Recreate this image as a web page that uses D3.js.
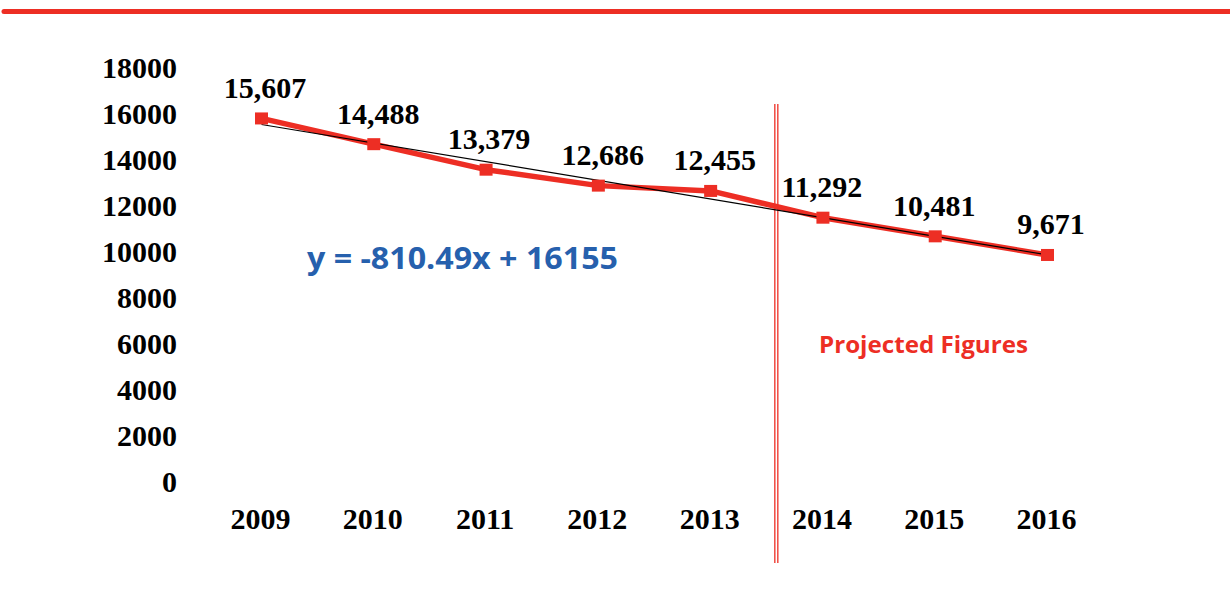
<!DOCTYPE html>
<html><head><meta charset="utf-8">
<script src="https://cdn.jsdelivr.net/npm/d3@7"></script>
<style>html,body{margin:0;padding:0;background:#fff;}svg{display:block;}</style>
</head><body>
<script>
const years = ["2009","2010","2011","2012","2013","2014","2015","2016"];
const values = [15607,14488,13379,12686,12455,11292,10481,9671];
const valueLabels = ["15,607","14,488","13,379","12,686","12,455","11,292","10,481","9,671"];
const yTicks = [0,2000,4000,6000,8000,10000,12000,14000,16000,18000];
const trendSlope = -810.49, trendIntercept = 16155;
const equationText = "y = -810.49x + 16155";
const projectedText = "Projected Figures";

const W = 1230, H = 594;
const red = "#ed2e24", blue = "#2660ad";
const svg = d3.select("body").append("svg").attr("width", W).attr("height", H);

svg.append("line").attr("x1", 4).attr("x2", W).attr("y1", 11.5).attr("y2", 11.5)
  .attr("stroke", red).attr("stroke-width", 5).attr("stroke-linecap", "round");

const x = d3.scalePoint().domain(years).range([261.5, 1047.5]);
const y = d3.scaleLinear().domain([0, 18000]).range([477.4, 63.4]);

const serif = "'Liberation Serif','Times New Roman',serif";
const fs = 30;

// y tick labels
svg.append("g").selectAll("text").data(yTicks).join("text")
  .attr("x", 177).attr("y", d => y(d) + 4.5).attr("dy", "0.35em")
  .attr("text-anchor", "end").attr("font-family", serif).attr("font-weight", "bold")
  .attr("font-size", fs).attr("fill", "#000").text(d => d);

// x labels
svg.append("g").selectAll("text").data(years).join("text")
  .attr("x", d => x(d) - 1).attr("y", 518).attr("dy", "0.35em")
  .attr("text-anchor", "middle").attr("font-family", serif).attr("font-weight", "bold")
  .attr("font-size", fs).attr("fill", "#000").text(d => d);

// projection divider (double line)
const step = x.step();
const divX = x("2013") + step * 0.585;
[-1.5, 1.5].forEach(o => {
  svg.append("line").attr("x1", divX + o).attr("x2", divX + o).attr("y1", 104).attr("y2", 563)
    .attr("stroke", red).attr("stroke-width", 1.3);
});

// data line
const data = years.map((yr, i) => ({yr, v: values[i], lab: valueLabels[i]}));
svg.append("path").datum(data)
  .attr("d", d3.line().x(d => x(d.yr)).y(d => y(d.v)))
  .attr("fill", "none").attr("stroke", red).attr("stroke-width", 5.5).attr("stroke-linejoin", "round");

// trend line
const trend = [1, years.length].map(i => ({yr: years[i-1], v: trendSlope * i + trendIntercept}));
svg.append("path").datum(trend)
  .attr("d", d3.line().x(d => x(d.yr)).y(d => y(d.v)))
  .attr("fill", "none").attr("stroke", "#000").attr("stroke-width", 1.2);

// markers
svg.append("g").selectAll("rect").data(data).join("rect")
  .attr("x", d => x(d.yr) - 6.5).attr("y", d => y(d.v) - 6)
  .attr("width", 13).attr("height", 12).attr("fill", red);

// value labels
const labelDx = [3.5, 4.5, 3, 4.5, 4, -1, -1, 3.5];
svg.append("g").selectAll("text").data(data).join("text")
  .attr("x", (d, i) => x(d.yr) + labelDx[i]).attr("y", d => y(d.v) - 31).attr("dy", "0.35em")
  .attr("text-anchor", "middle").attr("font-family", serif).attr("font-weight", "bold")
  .attr("font-size", fs).attr("fill", "#000").text(d => d.lab);

// equation
svg.append("text").attr("x", 307).attr("y", 258).attr("dy", "0.35em")
  .attr("font-family", "'Open Sans',sans-serif").attr("font-weight", "bold")
  .attr("font-size", 30).attr("textLength", 311).attr("lengthAdjust", "spacingAndGlyphs")
  .attr("fill", blue).text(equationText);

// projected label
svg.append("text").attr("x", 819).attr("y", 345).attr("dy", "0.35em")
  .attr("font-family", "'Open Sans',sans-serif").attr("font-weight", "bold")
  .attr("font-size", 23).attr("textLength", 209).attr("lengthAdjust", "spacingAndGlyphs")
  .attr("fill", red).text(projectedText);
</script>
</body></html>
